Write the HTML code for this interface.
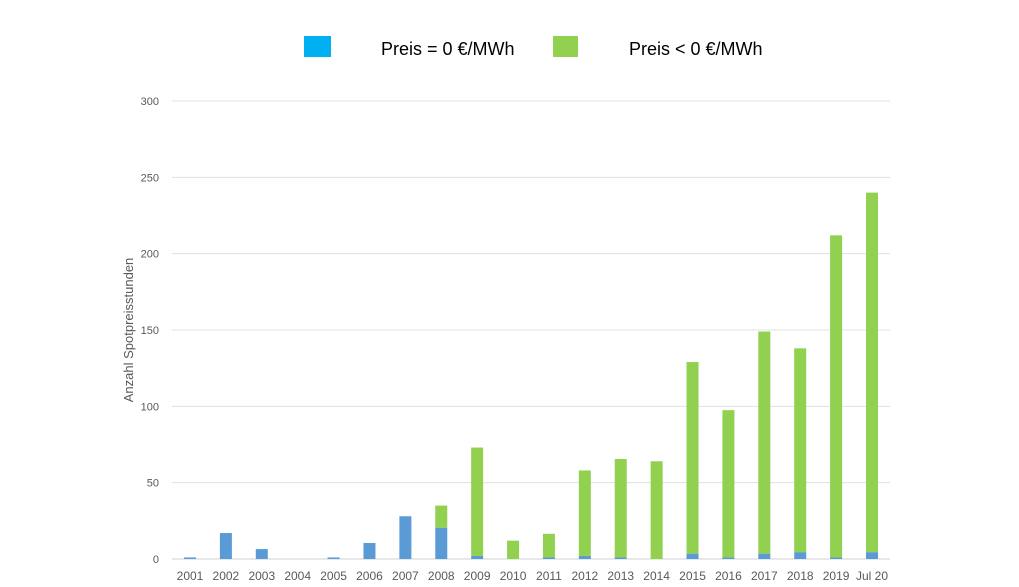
<!DOCTYPE html>
<html><head><meta charset="utf-8"><style>
body{margin:0;background:#fff;font-family:"Liberation Sans",sans-serif}
svg{display:block}
</style></head><body>
<svg width="1019" height="587">
<rect x="304" y="36" width="27" height="21" fill="#00b0f0"/>
<text x="381" y="55" font-size="18" fill="#000">Preis = 0 €/MWh</text>
<rect x="553" y="36" width="25" height="21" fill="#92d050"/>
<text x="629" y="55" font-size="18" fill="#000">Preis &lt; 0 €/MWh</text>
<text transform="translate(133,330) rotate(-90)" text-anchor="middle" font-size="13" fill="#595959">Anzahl Spotpreisstunden</text>
<g id="grid"></g><g id="bars"></g><g id="labels"></g>
</svg>
<script>
const categories=["2001","2002","2003","2004","2005","2006","2007","2008","2009","2010","2011","2012","2013","2014","2015","2016","2017","2018","2019","Jul 20"];
const zeroHours=[1,17,6.5,0,1,10.5,28,20.5,2,0,1,2,1,0,3.5,1,3.5,4.5,1,4.5];
const negativeHours=[0,0,0,0,0,0,0,14.5,71,12,15.5,56,64.5,64,125.5,96.5,145.5,133.5,211,235.5];
const yTicks=[0,50,100,150,200,250,300];
const NS="http://www.w3.org/2000/svg";
const y0=559,yTop=101,yMax=300;
function y(v){return y0-(v/yMax)*(y0-yTop);}
function x(i){return 190+i*(872-190)/(categories.length-1);}
const grid=document.getElementById('grid'),bars=document.getElementById('bars'),labels=document.getElementById('labels');
yTicks.forEach(t=>{
  const l=document.createElementNS(NS,'line');
  l.setAttribute('x1',172);l.setAttribute('x2',890);l.setAttribute('y1',y(t));l.setAttribute('y2',y(t));
  l.setAttribute('stroke',t===0?'#d0d0d0':'#e0e0e0');l.setAttribute('stroke-width',1);
  
  
  grid.appendChild(l);
  const tx=document.createElementNS(NS,'text');
  tx.setAttribute('x',159);tx.setAttribute('y',y(t)+4);tx.setAttribute('text-anchor','end');
  tx.setAttribute('font-size','11');tx.setAttribute('fill','#595959');tx.textContent=t;
  
  
  labels.appendChild(tx);
});
categories.forEach((c,i)=>{
  const w=12,cx=x(i);
  const b=document.createElementNS(NS,'rect');
  b.setAttribute('x',cx-w/2);b.setAttribute('width',w);
  b.setAttribute('y',y(zeroHours[i]));b.setAttribute('height',y0-y(zeroHours[i]));
  b.setAttribute('fill','#5b9bd5');
  
  
  bars.appendChild(b);
  const g=document.createElementNS(NS,'rect');
  const top=y(zeroHours[i]+negativeHours[i]);
  g.setAttribute('x',cx-w/2);g.setAttribute('width',w);
  g.setAttribute('y',top);g.setAttribute('height',y(zeroHours[i])-top);
  g.setAttribute('fill','#92d050');
  
  
  bars.appendChild(g);
  const tx=document.createElementNS(NS,'text');
  tx.setAttribute('x',cx);tx.setAttribute('y',580);tx.setAttribute('text-anchor','middle');
  tx.setAttribute('font-size','12');tx.setAttribute('fill','#595959');tx.textContent=c;
  
  
  labels.appendChild(tx);
});
</script>
</body></html>
